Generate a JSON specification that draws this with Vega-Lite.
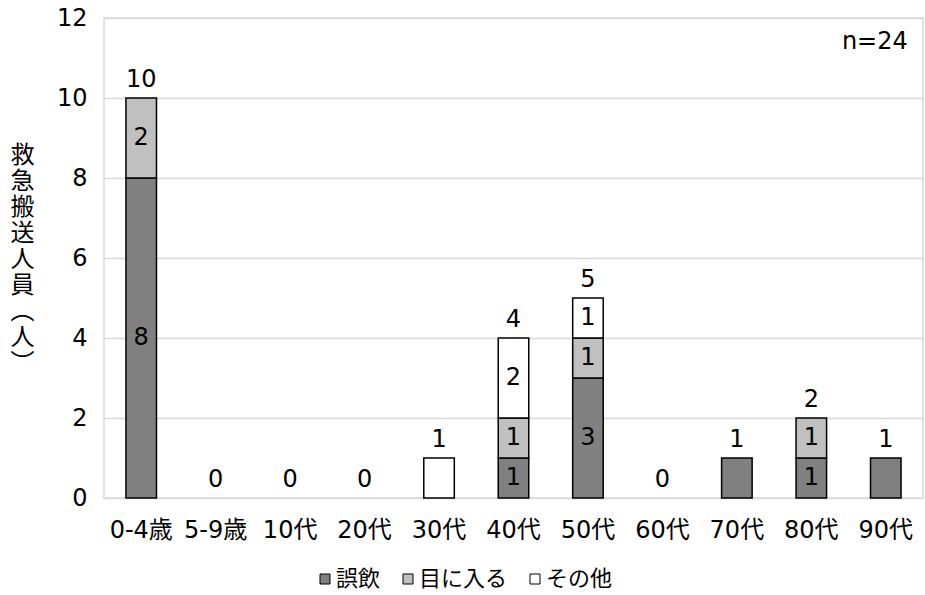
{
  "$schema": "https://vega.github.io/schema/vega-lite/v6.json",
  "autosize": "none",
  "width": 819,
  "height": 480,
  "padding": {"left": 104, "top": 18, "right": 2, "bottom": 97},
  "background": "white",
  "config": {
    "view": {"stroke": "#d9d9d9", "strokeWidth": 1.5},
    "font": "'DejaVu Sans', 'Noto Sans CJK JP'",
    "axis": {"gridColor": "#d9d9d9", "gridWidth": 1.5, "ticks": false, "domain": false,
             "labelFont": "'DejaVu Sans', 'Noto Sans CJK JP'", "labelFontSize": 24, "labelColor": "#000000"},
    "text": {"font": "'DejaVu Sans', 'Noto Sans CJK JP'", "fontSize": 24, "color": "#000000"}
  },
  "datasets": {
    "segments": [
      {"age": "0-4歳", "type": "誤飲", "value": 8},
      {"age": "0-4歳", "type": "目に入る", "value": 2},
      {"age": "30代", "type": "その他", "value": 1},
      {"age": "40代", "type": "誤飲", "value": 1},
      {"age": "40代", "type": "目に入る", "value": 1},
      {"age": "40代", "type": "その他", "value": 2},
      {"age": "50代", "type": "誤飲", "value": 3},
      {"age": "50代", "type": "目に入る", "value": 1},
      {"age": "50代", "type": "その他", "value": 1},
      {"age": "70代", "type": "誤飲", "value": 1},
      {"age": "80代", "type": "誤飲", "value": 1},
      {"age": "80代", "type": "目に入る", "value": 1},
      {"age": "90代", "type": "誤飲", "value": 1}
    ],
    "totals": [
      {"age": "0-4歳", "total": 10},
      {"age": "5-9歳", "total": 0},
      {"age": "10代", "total": 0},
      {"age": "20代", "total": 0},
      {"age": "30代", "total": 1},
      {"age": "40代", "total": 4},
      {"age": "50代", "total": 5},
      {"age": "60代", "total": 0},
      {"age": "70代", "total": 1},
      {"age": "80代", "total": 2},
      {"age": "90代", "total": 1}
    ],
    "note": [{"label": "n=24"}]
  },
  "layer": [
    {
      "data": {"name": "segments"},
      "transform": [
        {"calculate": "indexof(['誤飲','目に入る','その他'], datum.type)", "as": "idx"},
        {"stack": "value", "groupby": ["age"], "sort": [{"field": "idx", "order": "ascending"}], "as": ["y0", "y1"]}
      ],
      "mark": {"type": "bar", "stroke": "#000000", "strokeWidth": 1.5},
      "encoding": {
        "x": {"field": "age", "type": "nominal",
              "scale": {"domain": ["0-4歳", "5-9歳", "10代", "20代", "30代", "40代", "50代", "60代", "70代", "80代", "90代"], "paddingInner": 0.59, "paddingOuter": 0.295},
              "axis": {"title": null, "labelAngle": 0, "labelPadding": 20, "grid": false}},
        "y": {"field": "y1", "type": "quantitative",
              "scale": {"domain": [0, 12], "nice": false},
              "axis": {"values": [0, 2, 4, 6, 8, 10, 12], "labelPadding": 17,
                       "title": ["救", "急", "搬", "送", "人", "員", "︵", "人", "︶"],
                       "titleAngle": 0, "titleFont": "Noto Sans CJK JP", "titleFontSize": 24, "titleFontWeight": "normal",
                       "titleLineHeight": 26, "titleX": -82, "titleY": 137, "titleAlign": "center", "titleBaseline": "middle", "titleColor": "#000000"}},
        "y2": {"field": "y0"},
        "color": {"field": "type", "type": "nominal",
                  "scale": {"domain": ["誤飲", "目に入る", "その他"], "range": ["#808080", "#c0c0c0", "#ffffff"]},
                  "legend": {"title": null, "orient": "none", "direction": "horizontal", "legendX": 210, "legendY": 550,
                             "symbolType": "square", "symbolSize": 100, "symbolStrokeColor": "#000000", "symbolStrokeWidth": 1,
                             "labelFont": "Noto Sans CJK JP", "labelFontSize": 22, "labelColor": "#000000", "labelOffset": 0,
                             "columnPadding": 16, "padding": 0}}
      }
    },
    {
      "data": {"name": "segments"},
      "transform": [
        {"joinaggregate": [{"op": "count", "as": "n"}], "groupby": ["age"]},
        {"filter": "datum.n > 1"},
        {"calculate": "indexof(['誤飲','目に入る','その他'], datum.type)", "as": "idx"},
        {"stack": "value", "groupby": ["age"], "sort": [{"field": "idx", "order": "ascending"}], "as": ["y0", "y1"]},
        {"calculate": "(datum.y0 + datum.y1) / 2", "as": "mid"}
      ],
      "mark": {"type": "text", "baseline": "middle"},
      "encoding": {
        "x": {"field": "age", "type": "nominal"},
        "y": {"field": "mid", "type": "quantitative"},
        "text": {"field": "value", "type": "quantitative"}
      }
    },
    {
      "data": {"name": "totals"},
      "mark": {"type": "text", "baseline": "alphabetic", "dy": -11},
      "encoding": {
        "x": {"field": "age", "type": "nominal"},
        "y": {"field": "total", "type": "quantitative"},
        "text": {"field": "total", "type": "quantitative"}
      }
    },
    {
      "data": {"name": "note"},
      "mark": {"type": "text", "align": "right", "baseline": "middle", "dx": 22},
      "encoding": {
        "x": {"datum": "90代", "type": "nominal"},
        "y": {"datum": 11.4, "type": "quantitative"},
        "text": {"field": "label", "type": "nominal"}
      }
    }
  ]
}
